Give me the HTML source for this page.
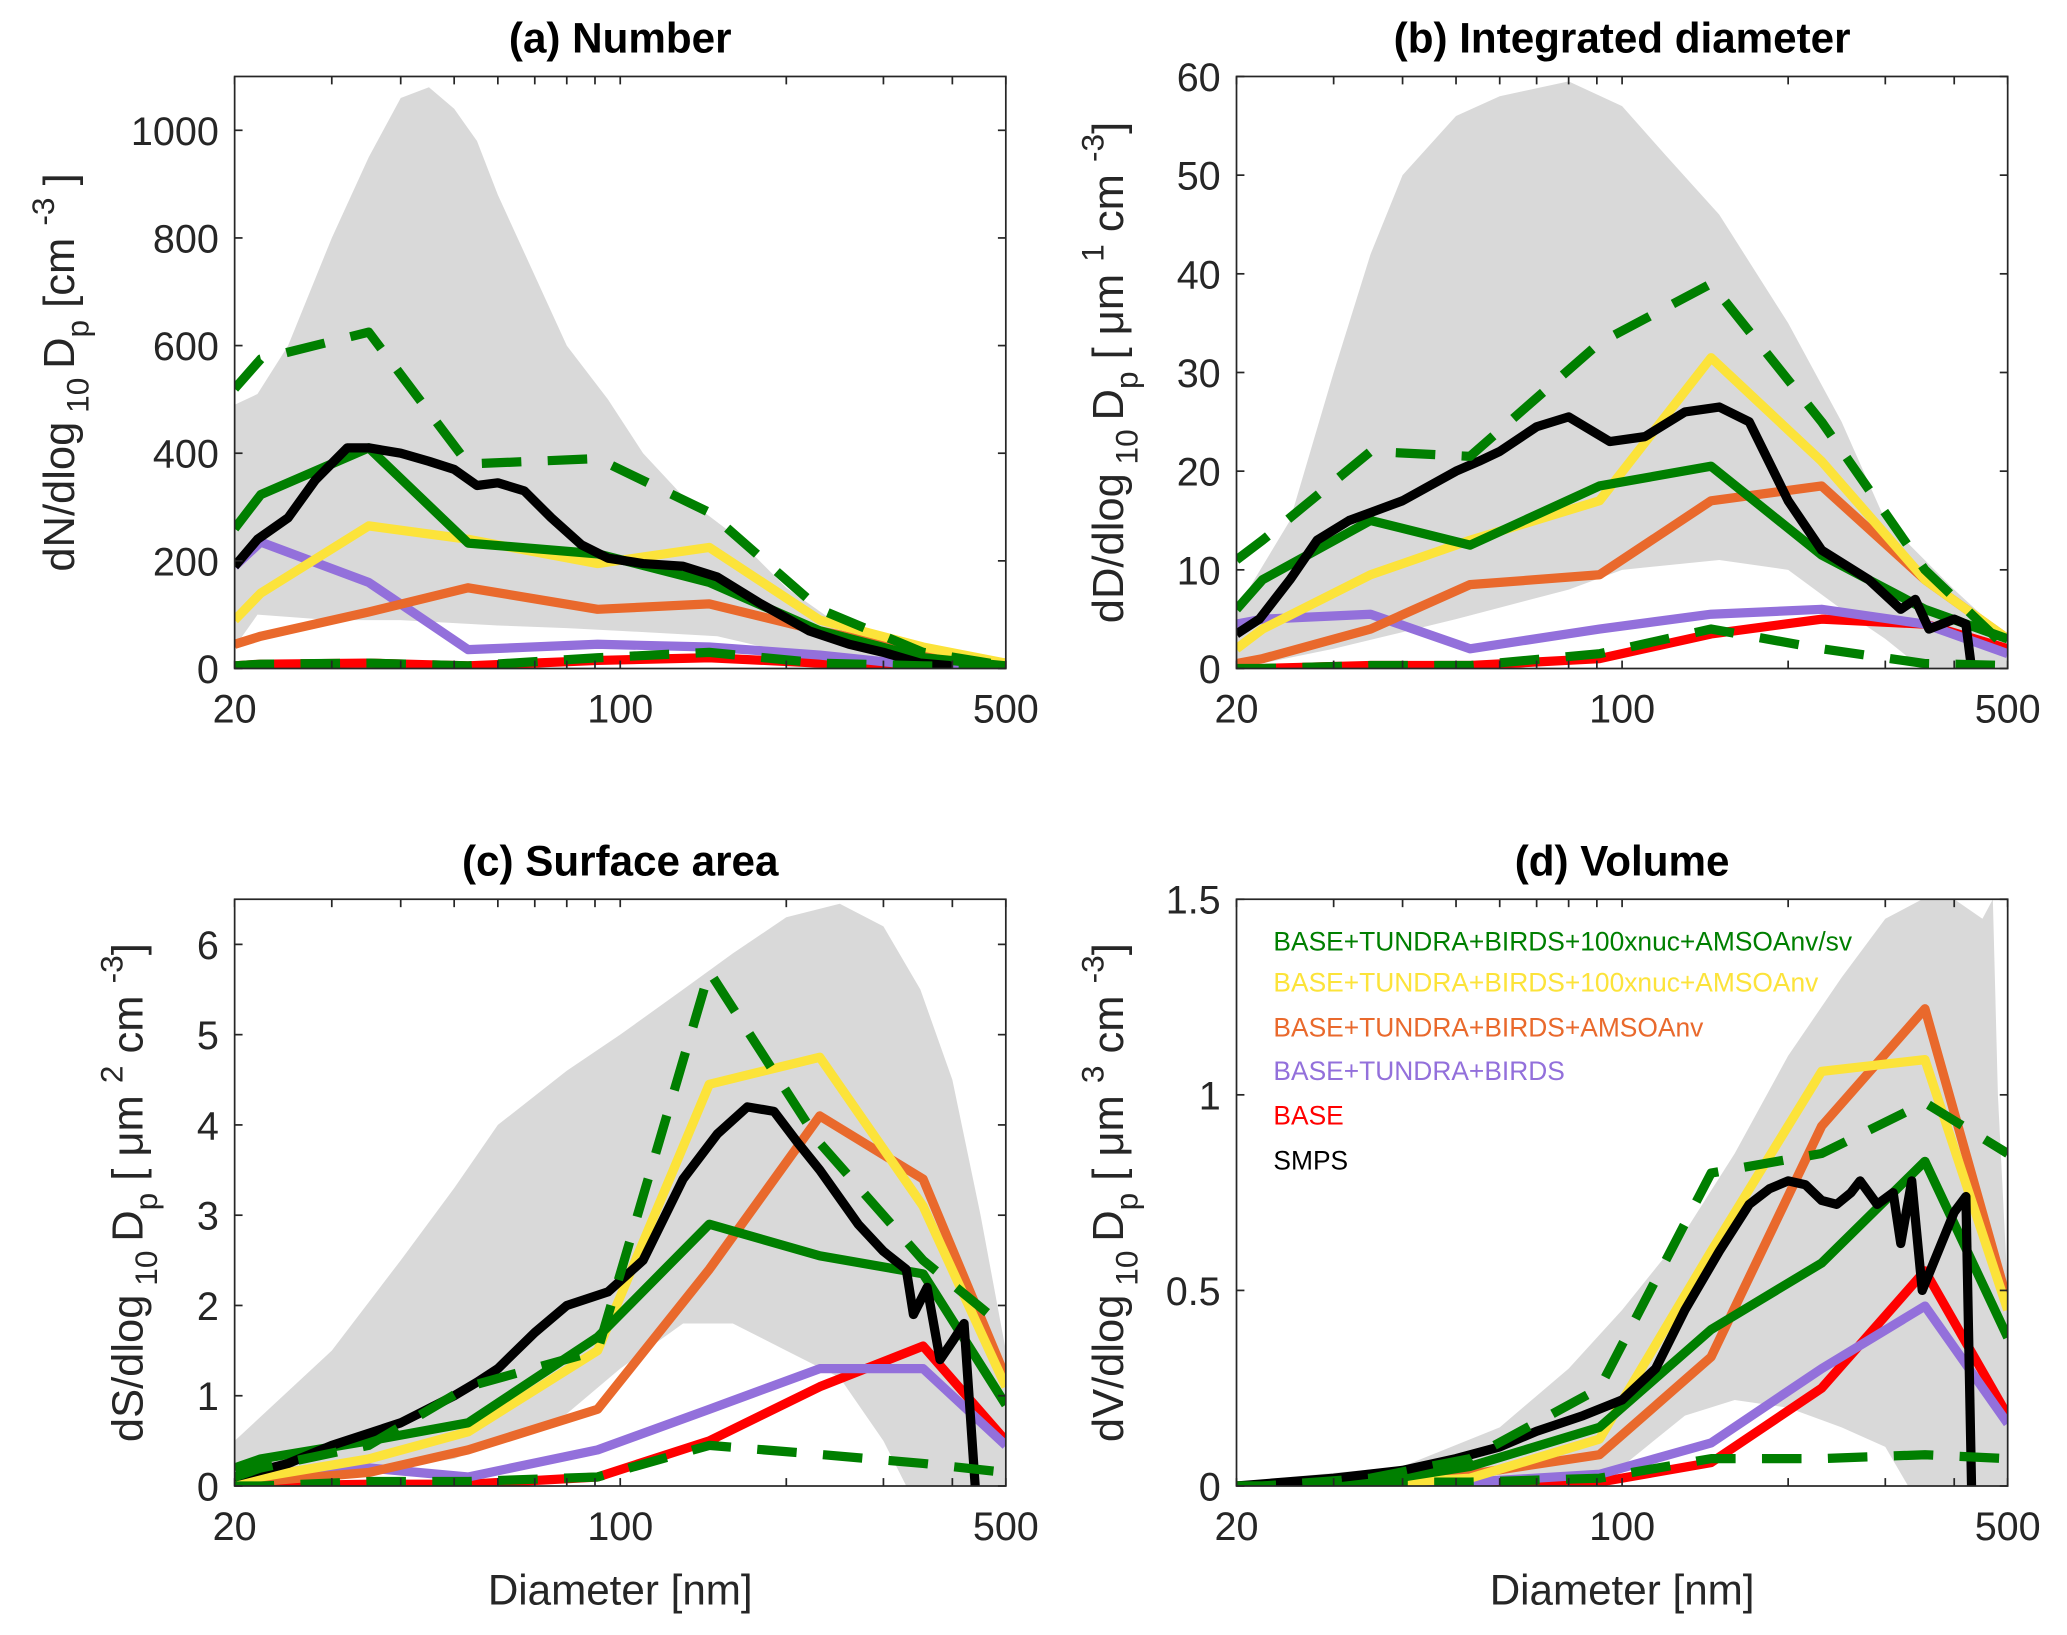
<!DOCTYPE html>
<html><head><meta charset="utf-8"><style>
html,body{margin:0;padding:0;background:#fff;}
svg{display:block;font-family:"Liberation Sans",Arial,sans-serif;}
</style></head><body>
<svg id="fig" width="2067" height="1635" viewBox="0 0 1568 1240" preserveAspectRatio="none" xmlns="http://www.w3.org/2000/svg"></svg>
<script>
// ---- data ----
const modelD = [20, 22.3, 35, 53, 91, 145, 230, 354, 500];
// Panel (a) Number
const aGreenSolid = [260, 323, 410, 233, 213, 160, 70, 20, 5];
const aGreenDash  = [520, 575, 625, 380, 390, 290, 110, 30, 5];
const aGreenDashLow = [5, 8, 10, 5, 20, 30, 10, 5, 3];
const aYellow = [90, 140, 265, 240, 195, 225, 90, 40, 10];
const aOrange = [45, 60, 105, 150, 110, 120, 70, 30, 10];
const aPurple = [190, 235, 160, 35, 45, 40, 25, 5, 3];
const aRed = [5, 8, 10, 5, 15, 20, 10, 5, 3];
const aSmpsD = [20,22,25,28,32,35,40,45,50,55,60,67,75,85,95,110,130,150,180,220,260,300,350,400];
const aSmps = [190,240,280,350,410,410,400,385,370,340,345,330,280,230,205,195,190,170,120,70,45,30,10,5];
const aBandUD = [20,22,25,30,35,40,45,50,55,60,70,80,95,110,130,160,200,250,300,400,500];
const aBandU = [490,510,600,800,950,1060,1080,1040,980,880,730,600,500,400,320,250,150,80,40,15,5];
const aBandLD = [20,22,30,40,60,80,100,150,200,300,500];
const aBandL = [40,100,90,90,80,75,70,60,30,10,0];
// Panel (b) Integrated diameter
const bGreenSolid = [6, 9, 15, 12.5, 18.5, 20.5, 11.5, 6, 3];
const bGreenDash = [11, 13, 22, 21.5, 33, 39, 25, 10, 2];
const bGreenDashLow = [0, 0, 0.3, 0.3, 1.5, 4, 2, 0.5, 0.3];
const bYellow = [2, 4, 9.5, 13, 17, 31.5, 21, 9, 3];
const bOrange = [0.5, 1, 4, 8.5, 9.5, 17, 18.5, 9, 3];
const bPurple = [4.5, 5, 5.5, 2, 4, 5.5, 6, 4.5, 1.5];
const bRed = [0, 0, 0.3, 0.3, 1, 3.5, 5, 4.5, 2];
const bSmpsD = [20,22,25,28,32,40,50,55,60,70,80,95,110,130,150,170,200,230,280,320,340,360,400,420,430];
const bSmps = [3.5,5,9,13,15,17,20,21,22,24.5,25.5,23,23.5,26,26.5,25,17,12,9,6,7,4,5,4.5,0];
const bBandUD = [20,25,30,35,40,50,60,80,100,120,150,200,250,300,400,500];
const bBandU = [6,15,30,42,50,56,58,59.5,57,52,46,35,25,15,8,3];
const bBandLD = [20,30,50,80,100,150,200,250,300,350,500];
const bBandL = [0,2,5,8,10,11,10,6,3,0,0];
// Panel (c) Surface area
const cGreenSolid = [0.2, 0.3, 0.5, 0.7, 1.65, 2.9, 2.55, 2.35, 0.9];
const cGreenDash = [0.1, 0.2, 0.45, 1.1, 1.5, 5.7, 3.8, 2.5, 1.75];
const cGreenDashLow = [0, 0, 0.05, 0.05, 0.1, 0.45, 0.35, 0.25, 0.15];
const cYellow = [0.05, 0.1, 0.3, 0.6, 1.5, 4.45, 4.75, 3.1, 1.1];
const cOrange = [0, 0.05, 0.15, 0.4, 0.85, 2.4, 4.1, 3.4, 1.2];
const cPurple = [0.1, 0.15, 0.2, 0.1, 0.4, 0.85, 1.3, 1.3, 0.45];
const cRed = [0, 0, 0.02, 0.02, 0.1, 0.5, 1.1, 1.55, 0.5];
const cSmpsD = [20,25,30,40,50,55,60,70,80,95,110,130,150,170,190,210,230,270,300,330,340,360,380,400,420,440];
const cSmps = [0.1,0.25,0.45,0.7,1.0,1.15,1.3,1.7,2.0,2.15,2.5,3.4,3.9,4.2,4.15,3.8,3.5,2.9,2.6,2.4,1.9,2.2,1.4,1.6,1.8,0];
const cBandUD = [20,30,40,50,60,80,100,130,160,200,250,300,350,400,450,500];
const cBandU = [0.5,1.5,2.5,3.3,4,4.6,5.0,5.5,5.9,6.3,6.45,6.2,5.5,4.5,3,1.5];
const cBandLD = [20,50,80,100,130,160,200,250,300,330,500];
const cBandL = [0,0.3,0.8,1.3,1.8,1.8,1.5,1.2,0.5,0,0];
// Panel (d) Volume
const dGreenSolid = [0, 0, 0.01, 0.05, 0.15, 0.4, 0.57, 0.83, 0.38];
const dGreenDash = [0, 0, 0.02, 0.07, 0.25, 0.8, 0.85, 0.98, 0.85];
const dGreenDashLow = [0, 0, 0.01, 0.01, 0.02, 0.07, 0.07, 0.08, 0.07];
const dYellow = [0, 0, 0.005, 0.02, 0.12, 0.6, 1.06, 1.09, 0.45];
const dOrange = [0, 0, 0.005, 0.03, 0.08, 0.33, 0.92, 1.22, 0.47];
const dPurple = [0, 0, 0.005, 0.01, 0.03, 0.11, 0.3, 0.46, 0.16];
const dRed = [0, 0, 0, 0, 0.01, 0.06, 0.25, 0.55, 0.18];
const dSmpsD = [20,30,40,50,60,70,85,100,115,130,150,170,185,200,215,230,245,260,270,290,310,320,335,350,400,420,430];
const dSmps = [0,0.02,0.04,0.07,0.1,0.14,0.18,0.22,0.3,0.45,0.6,0.72,0.76,0.78,0.77,0.73,0.72,0.75,0.78,0.72,0.75,0.62,0.78,0.5,0.7,0.74,0];
const dBandUD = [20,40,60,80,100,130,160,200,250,300,350,400,450,470,480,500];
const dBandU = [0.01,0.05,0.15,0.3,0.45,0.65,0.85,1.1,1.3,1.45,1.5,1.5,1.45,1.5,1.0,0.5];
const dBandLD = [20,80,100,130,160,200,250,300,330,500];
const dBandL = [0,0.02,0.05,0.18,0.22,0.2,0.15,0.1,0,0];

const yTicksA = [0,200,400,600,800,1000];
const yTicksB = [0,10,20,30,40,50,60];
const yTicksC = [0,1,2,3,4,5,6];
const yTicksD = [0,0.5,1,1.5];
const yTickLabelsD = ["0","0.5","1","1.5"];
const xTickVals = [20,100,500];
const xMinorVals = [30,40,50,60,70,80,90,200,300,400];
const legendLabels = ["BASE+TUNDRA+BIRDS+100xnuc+AMSOAnv/sv","BASE+TUNDRA+BIRDS+100xnuc+AMSOAnv","BASE+TUNDRA+BIRDS+AMSOAnv","BASE+TUNDRA+BIRDS","BASE","SMPS"];
const legendColors = ["#007f00","#fce33a","#e9692c","#9370db","#ff0000","#000000"];

const NS = "http://www.w3.org/2000/svg";
const svg = document.getElementById('fig');
function mk(tag, attrs, parent){
  const e = document.createElementNS(NS, tag);
  for (const k in attrs) e.setAttribute(k, attrs[k]);
  (parent||svg).appendChild(e);
  return e;
}
const COL = {g:"#007f00", y:"#fce33a", o:"#e9692c", p:"#9370db", r:"#ff0000", k:"#000000"};

function panel(cfg){
  const {L,R,T,B,ymax,title,key} = cfg;
  const g = mk('g', {});
  
  
  const xs = d => L + (Math.log(d/20)/Math.log(25))*(R-L);
  const ys = v => B - (v/ymax)*(B-T);
  const clipId = 'clip-' + key;
  const cp = mk('clipPath', {id: clipId}, g);
  mk('rect', {x:L, y:T, width:R-L, height:B-T}, cp);
  const plot = mk('g', {'clip-path':'url(#'+clipId+')'}, g);
  let pts = cfg.bandUD.map((d,i)=>xs(d)+','+ys(cfg.bandU[i]));
  for (let i=cfg.bandLD.length-1;i>=0;i--) pts.push(xs(cfg.bandLD[i])+','+ys(cfg.bandL[i]));
  const band = mk('polygon', {points: pts.join(' '), fill:'#d9d9d9', stroke:'none'}, plot);
  
  
  function line(ds, vs, color, dashed, name){
    const p = mk('polyline', {points: ds.map((d,i)=>xs(d)+','+ys(vs[i])).join(' '), fill:'none', stroke:color, 'stroke-width':7, 'stroke-linejoin':'round', 'stroke-dasharray': dashed ? '30 20' : 'none'}, plot);
    
    
  }
  line(modelD, cfg.red, COL.r, false, 'base-line');
  line(modelD, cfg.purple, COL.p, false, 'base-tundra-birds-line');
  line(modelD, cfg.orange, COL.o, false, 'amsoanv-line');
  line(modelD, cfg.yellow, COL.y, false, 'nuc-amsoanv-line');
  line(modelD, cfg.gs, COL.g, false, 'nuc-amsoanv-sv-line');
  line(cfg.smpsD, cfg.smps, COL.k, false, 'smps-line');
  line(modelD, cfg.gd, COL.g, true, 'green-dashed-upper-line');
  line(modelD, cfg.gdl, COL.g, true, 'green-dashed-lower-line');
  const box = mk('rect', {x:L, y:T, width:R-L, height:B-T, fill:'none', stroke:'#262626', 'stroke-width':1.3}, g);
  
  
  xTickVals.concat(xMinorVals).forEach(v=>{
    const x = xs(v);
    mk('line', {x1:x, x2:x, y1:B, y2:B-6, stroke:'#262626','stroke-width':1.3}, g);
    mk('line', {x1:x, x2:x, y1:T, y2:T+6, stroke:'#262626','stroke-width':1.3}, g);
  });
  xTickVals.forEach(v=>{
    const t = mk('text', {x:xs(v), y:B+41, 'text-anchor':'middle', 'font-size':30, fill:'#262626'}, g);
    t.textContent = String(v);
    
    
  });
  cfg.yticks.forEach((v,i)=>{
    const y = ys(v);
    mk('line', {x1:L, x2:L+6, y1:y, y2:y, stroke:'#262626','stroke-width':1.3}, g);
    mk('line', {x1:R, x2:R-6, y1:y, y2:y, stroke:'#262626','stroke-width':1.3}, g);
    const t = mk('text', {x:L-12, y:y+11, 'text-anchor':'end', 'font-size':30, fill:'#262626'}, g);
    t.textContent = cfg.ylabels ? cfg.ylabels[i] : String(v);
    
    
  });
  const tt = mk('text', {x:(L+R)/2, y:T-18, 'text-anchor':'middle', 'font-size':32, 'font-weight':'bold', fill:'#000'}, g);
  tt.textContent = title;
  
  
  const cy = (T+B)/2;
  const yl = mk('text', {transform:'translate('+(cfg.ylx)+','+cy+') rotate(-90)', 'text-anchor':'middle', 'font-size':33, fill:'#262626'}, g);
  yl.innerHTML = cfg.ylabel;
  
  
  if (cfg.xlabel){
    const xl = mk('text', {x:(L+R)/2, y:B+90, 'text-anchor':'middle', 'font-size':32, fill:'#262626'}, g);
    xl.textContent = 'Diameter [nm]';
    
    
  }
  return g;
}
const sub = '<tspan font-size="24" dy="11">  10 </tspan><tspan dy="-11">D</tspan><tspan font-size="24" dy="11">p</tspan><tspan dy="-11"> [';
panel({key:'a',L:178,R:763,T:58,B:507,ymax:1100,title:'(a) Number',yticks:yTicksA,ylx:56,
  ylabel:'dN/dlog'+sub+'cm </tspan><tspan font-size="24" dy="-15"> -3</tspan><tspan dy="15"> ]</tspan>',
  gs:aGreenSolid,gd:aGreenDash,gdl:aGreenDashLow,yellow:aYellow,orange:aOrange,purple:aPurple,red:aRed,
  smpsD:aSmpsD,smps:aSmps,bandUD:aBandUD,bandU:aBandU,bandLD:aBandLD,bandL:aBandL});
panel({key:'b',L:938,R:1523,T:58,B:507,ymax:60,title:'(b) Integrated diameter',yticks:yTicksB,ylx:852,
  ylabel:'dD/dlog'+sub+' μm </tspan><tspan font-size="24" dy="-15">1</tspan><tspan dy="15"> cm </tspan><tspan font-size="24" dy="-15">-3</tspan><tspan dy="15">]</tspan>',
  gs:bGreenSolid,gd:bGreenDash,gdl:bGreenDashLow,yellow:bYellow,orange:bOrange,purple:bPurple,red:bRed,
  smpsD:bSmpsD,smps:bSmps,bandUD:bBandUD,bandU:bBandU,bandLD:bBandLD,bandL:bBandL});
panel({key:'c',L:178,R:763,T:682,B:1127,ymax:6.5,title:'(c) Surface area',yticks:yTicksC,ylx:108,xlabel:true,
  ylabel:'dS/dlog'+sub+' μm </tspan><tspan font-size="24" dy="-15">2</tspan><tspan dy="15"> cm </tspan><tspan font-size="24" dy="-15">-3</tspan><tspan dy="15">]</tspan>',
  gs:cGreenSolid,gd:cGreenDash,gdl:cGreenDashLow,yellow:cYellow,orange:cOrange,purple:cPurple,red:cRed,
  smpsD:cSmpsD,smps:cSmps,bandUD:cBandUD,bandU:cBandU,bandLD:cBandLD,bandL:cBandL});
panel({key:'d',L:938,R:1523,T:682,B:1127,ymax:1.5,title:'(d) Volume',yticks:yTicksD,ylabels:yTickLabelsD,ylx:852,xlabel:true,
  ylabel:'dV/dlog'+sub+' μm </tspan><tspan font-size="24" dy="-15">3</tspan><tspan dy="15"> cm </tspan><tspan font-size="24" dy="-15">-3</tspan><tspan dy="15">]</tspan>',
  gs:dGreenSolid,gd:dGreenDash,gdl:dGreenDashLow,yellow:dYellow,orange:dOrange,purple:dPurple,red:dRed,
  smpsD:dSmpsD,smps:dSmps,bandUD:dBandUD,bandU:dBandU,bandLD:dBandLD,bandL:dBandL});
const legendYs = [721, 752, 786, 819, 853, 887];
legendLabels.forEach((lab,i)=>{
  const t = mk('text', {x:966, y:legendYs[i], 'font-size':20, fill:legendColors[i]});
  t.textContent = lab;
  
  
});
</script>
</body></html>
